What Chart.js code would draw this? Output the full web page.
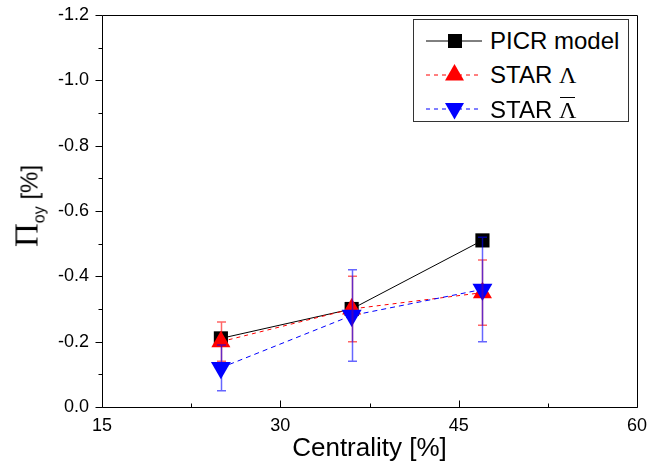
<!DOCTYPE html>
<html><head><meta charset="utf-8">
<script src="https://cdn.jsdelivr.net/npm/chart.js@4.4.1/dist/chart.umd.min.js"></script>
<style>
html,body{margin:0;padding:0;background:#fff;}
#wrap{position:relative;width:667px;height:465px;overflow:hidden;}
canvas{display:block;}
#ytitle{position:absolute;left:27px;top:206px;transform:translate(-50%,-50%) rotate(-90deg);white-space:nowrap;font-family:"Liberation Sans",Arial,sans-serif;color:#000;line-height:1;}
#ytitle .pi{font-family:"Liberation Serif","Times New Roman",serif;font-size:33px;}
#ytitle .sub{font-size:16px;position:relative;top:7px;}
#ytitle .unit{font-size:24px;}
#legend{position:absolute;left:413px;top:19px;width:216px;height:103px;border:1px solid #333;background:#fff;box-sizing:border-box;font-family:"Liberation Sans",Arial,sans-serif;font-size:24px;color:#000;}
#legend svg{position:absolute;left:0;top:0;}
#legend .txt{position:absolute;left:76px;height:28px;line-height:28px;white-space:nowrap;}
.lam{font-family:"Liberation Serif","Times New Roman",serif;position:relative;display:inline-block;}
.bar{position:absolute;left:1px;right:1px;top:1px;border-top:1.5px solid #000;}
</style></head>
<body>
<div id="wrap">
<canvas id="c" width="667" height="465"></canvas>
<div id="ytitle"><span class="pi">Π</span><span class="sub">oy</span><span class="unit"> [%]</span></div>
<div id="legend">
<svg width="216" height="103">
<line x1="12" y1="21" x2="68" y2="21" stroke="#000" stroke-width="1"/>
<rect x="34" y="14" width="14" height="14" fill="#000"/>
<line x1="12" y1="55" x2="66" y2="55" stroke="#f00" stroke-width="1" stroke-dasharray="4,4"/>
<polygon points="40.5,44 50,60.5 31,60.5" fill="#f00"/>
<line x1="12" y1="89" x2="66" y2="89" stroke="#00f" stroke-width="1" stroke-dasharray="4,4"/>
<polygon points="31,83 50,83 40.5,99.5" fill="#00f"/>
</svg>
<div class="txt" style="top:7px">PICR model</div>
<div class="txt" style="top:41px">STAR <span class="lam">Λ</span></div>
<div class="txt" style="top:76px">STAR <span class="lam">Λ<span class="bar"></span></span></div>
</div>
</div>
<script>
// ---- data ----
const centrality = [25, 36, 47];
const picrModel = [-0.21, -0.30, -0.51];
const starLambda = [-0.20, -0.30, -0.35];
const starLambdaErr = [0.06, 0.10, 0.10];
const starAntiLambda = [-0.12, -0.28, -0.36];
const starAntiLambdaErr = [0.07, 0.14, 0.16];
const xMajorTicks = [15, 30, 45, 60];
const xMinorTicks = [22.5, 37.5, 52.5];
const yMajorTicks = [0, -0.2, -0.4, -0.6, -0.8, -1.0, -1.2];
const yMinorTicks = [-0.1, -0.3, -0.5, -0.7, -0.9, -1.1];
const yTickLabels = ['0.0', '-0.2', '-0.4', '-0.6', '-0.8', '-1.0', '-1.2'];

const FAM = '"Liberation Sans", Arial, sans-serif';

const pts = arr => centrality.map((x, i) => ({x: x, y: arr[i]}));

const errorBars = {
  id: 'errorBars',
  afterDatasetsDraw(chart) {
    const ctx = chart.ctx, xs = chart.scales.x, ys = chart.scales.y;
    const sets = [[starLambda, starLambdaErr, 'rgba(255,0,0,0.6)'], [starAntiLambda, starAntiLambdaErr, 'rgba(0,0,255,0.6)']];
    ctx.save();
    ctx.lineWidth = 1.5;
    sets.forEach(([vals, errs, col]) => {
      ctx.strokeStyle = col;
      vals.forEach((v, i) => {
        const x = Math.round(xs.getPixelForValue(centrality[i])) + 0.5;
        const yt = ys.getPixelForValue(v - errs[i]);
        const yb = ys.getPixelForValue(v + errs[i]);
        ctx.beginPath();
        ctx.moveTo(x, yt); ctx.lineTo(x, yb);
        ctx.moveTo(x - 4.5, yt); ctx.lineTo(x + 4.5, yt);
        ctx.moveTo(x - 4.5, yb); ctx.lineTo(x + 4.5, yb);
        ctx.stroke();
      });
    });
    ctx.restore();
  }
};

const frameTicks = {
  id: 'frameTicks',
  afterDraw(chart) {
    const ctx = chart.ctx, a = chart.chartArea, xs = chart.scales.x, ys = chart.scales.y;
    const L = Math.round(a.left) + 0.5, R = Math.round(a.right) + 0.5, T = Math.round(a.top) + 0.5, B = Math.round(a.bottom) + 0.5;
    ctx.save();
    ctx.strokeStyle = '#000';
    ctx.lineWidth = 1;
    ctx.beginPath();
    ctx.rect(L, T, R - L, B - T);
    ctx.stroke();
    ctx.beginPath();
    yMajorTicks.forEach(v => { const y = Math.round(ys.getPixelForValue(v)) + 0.5; ctx.moveTo(L - 7, y); ctx.lineTo(L, y); });
    yMinorTicks.forEach(v => { const y = Math.round(ys.getPixelForValue(v)) + 0.5; ctx.moveTo(L - 4, y); ctx.lineTo(L, y); });
    xMajorTicks.forEach(v => { const x = Math.round(xs.getPixelForValue(v)) + 0.5; ctx.moveTo(x, B); ctx.lineTo(x, B - 7); });
    xMinorTicks.forEach(v => { const x = Math.round(xs.getPixelForValue(v)) + 0.5; ctx.moveTo(x, B); ctx.lineTo(x, B - 4); });
    ctx.stroke();
    ctx.restore();
  }
};

new Chart(document.getElementById('c'), {
  type: 'line',
  data: {
    datasets: [
      {label: 'PICR model', data: pts(picrModel), borderColor: '#000', backgroundColor: '#000', borderWidth: 1,
       pointStyle: 'rect', pointRadius: 10, pointBorderWidth: 0, order: 3},
      {label: 'STAR Λ', data: pts(starLambda), borderColor: '#ff0000', backgroundColor: '#ff0000', borderWidth: 1, borderDash: [4, 4],
       pointStyle: 'triangle', pointRadius: 11, pointBorderWidth: 0, order: 2},
      {label: 'STAR anti-Λ', data: pts(starAntiLambda), borderColor: '#0000ff', backgroundColor: '#0000ff', borderWidth: 1, borderDash: [5, 4],
       pointStyle: 'triangle', pointRotation: 180, pointRadius: 11.5, pointBorderWidth: 0, order: 1}
    ]
  },
  options: {
    responsive: false,
    animation: false,
    layout: {padding: {left: 0, right: 30, top: 15, bottom: 0}},
    plugins: {legend: {display: false}, tooltip: {enabled: false}},
    scales: {
      x: {
        type: 'linear', min: 15, max: 60,
        afterBuildTicks: s => { s.ticks = xMajorTicks.map(v => ({value: v})); },
        grid: {display: false, drawTicks: false},
        border: {display: false},
        ticks: {font: {family: FAM, size: 18}, color: '#000', padding: 8, maxRotation: 0, autoSkip: false,
                callback: v => String(v)},
        title: {display: true, text: 'Centrality [%]', color: '#000', font: {family: FAM, size: 26}, padding: {top: 0, bottom: 1}},
        afterFit: s => { s.height = 58; s.paddingLeft = 0; s.paddingRight = 0; }
      },
      y: {
        type: 'linear', min: -1.2, max: 0, reverse: true,
        afterBuildTicks: s => { s.ticks = yMajorTicks.map(v => ({value: v})); },
        grid: {display: false, drawTicks: false},
        border: {display: false},
        ticks: {font: {family: FAM, size: 18}, color: '#000', padding: 13, autoSkip: false,
                callback: (v, i) => { const k = yMajorTicks.findIndex(t => Math.abs(t - v) < 1e-6); return k >= 0 ? yTickLabels[k] : ''; }},
        afterFit: s => { s.width = 102; s.paddingTop = 0; s.paddingBottom = 0; }
      }
    }
  },
  plugins: [errorBars, frameTicks]
});
</script>
</body></html>
